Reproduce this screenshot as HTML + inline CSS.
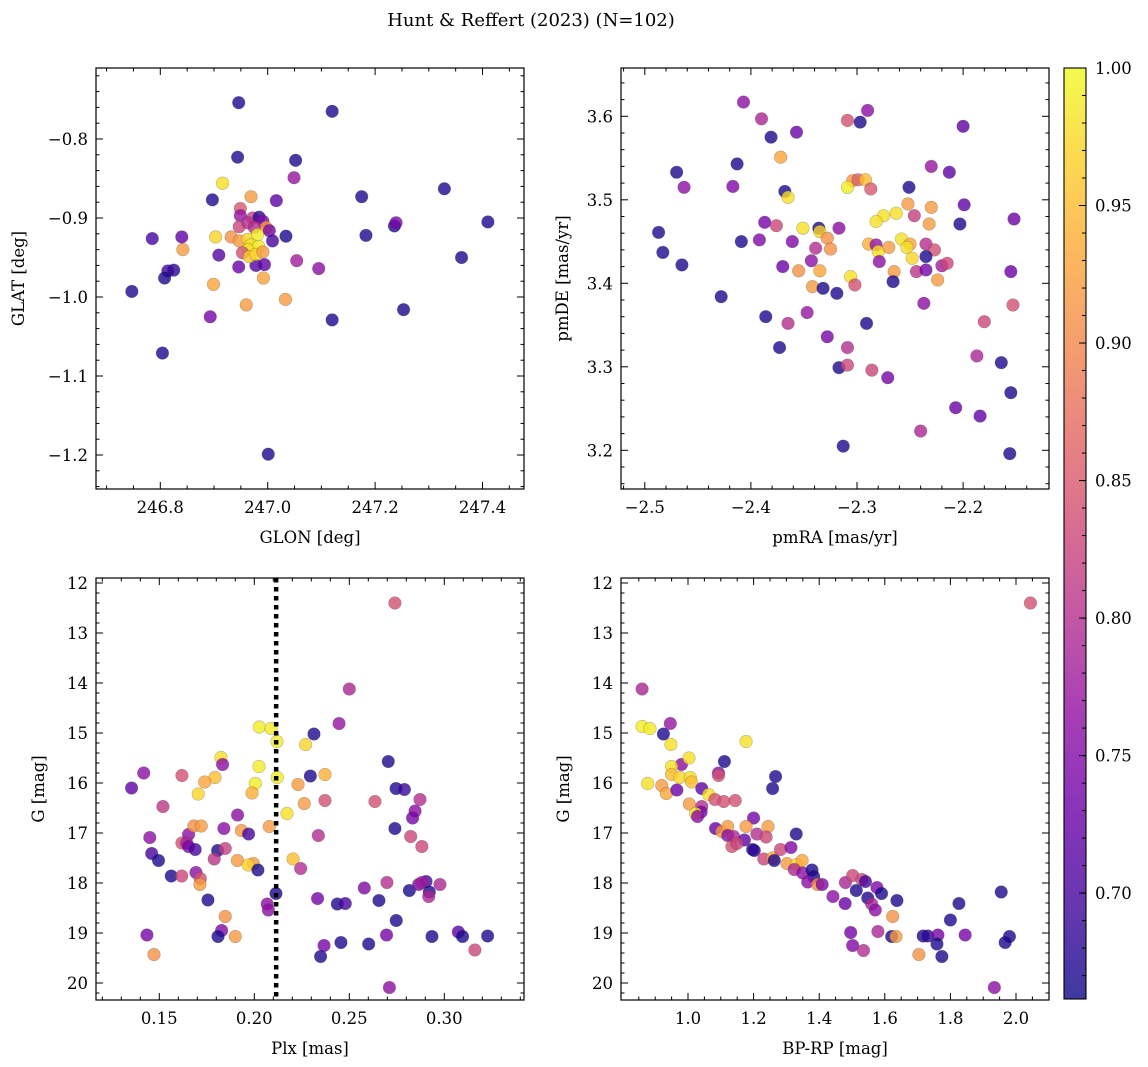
<!DOCTYPE html>
<html><head><meta charset="utf-8">
<style>
body{margin:0;background:#fff;}
svg{display:block;font-family:"DejaVu Serif","Liberation Serif",serif;}
</style></head>
<body>
<svg id="fig" width="1148" height="1067" viewBox="0 0 1148 1067" xmlns="http://www.w3.org/2000/svg">
<rect width="1148" height="1067" fill="#fff"/>
<text x="531" y="26" font-size="18" text-anchor="middle">Hunt &amp; Reffert (2023) (N=102)</text>
<g id="layer"></g>
</svg>
<script>
// ---- Panel 1: GLON vs GLAT ----
const p1Glon=[246.946,247.120,246.944,247.052,247.049,246.916,246.969,246.897,247.016,247.175,247.329,247.410,247.236,247.239,247.183,247.034,246.785,246.840,246.903,246.842,246.909,247.054,247.095,247.361,246.946,246.978,246.994,246.825,246.814,246.808,246.747,246.899,246.992,247.033,246.960,246.893,247.120,247.253,246.804,247.001,246.949,246.949,246.972,246.984,246.991,246.947,246.963,246.997,247.003,247.009,246.932,246.947,246.975,246.963,246.981,246.969,246.983,246.963,246.953,246.966,246.978,246.991];
const p1Glat=[-0.754,-0.765,-0.823,-0.827,-0.849,-0.856,-0.873,-0.877,-0.878,-0.873,-0.863,-0.905,-0.910,-0.906,-0.922,-0.923,-0.926,-0.924,-0.924,-0.940,-0.947,-0.954,-0.964,-0.950,-0.962,-0.960,-0.959,-0.966,-0.967,-0.976,-0.993,-0.984,-0.976,-1.003,-1.010,-1.025,-1.029,-1.016,-1.071,-1.199,-0.888,-0.897,-0.900,-0.899,-0.904,-0.911,-0.906,-0.912,-0.916,-0.929,-0.924,-0.929,-0.912,-0.927,-0.921,-0.934,-0.936,-0.940,-0.944,-0.949,-0.946,-0.943];
const p1Prob=[0.67,0.67,0.67,0.67,0.77,0.98,0.92,0.67,0.72,0.67,0.67,0.67,0.67,0.74,0.67,0.67,0.70,0.72,0.97,0.92,0.71,0.78,0.76,0.67,0.73,0.71,0.72,0.68,0.69,0.67,0.67,0.93,0.93,0.92,0.92,0.74,0.67,0.67,0.67,0.67,0.85,0.77,0.82,0.68,0.75,0.83,0.80,0.92,0.74,0.70,0.91,0.92,0.80,0.97,0.99,0.98,0.99,0.98,0.84,0.96,0.97,0.92];
// ---- Panel 2: pmRA vs pmDE ----
const p2PmRA=[-2.407,-2.390,-2.381,-2.357,-2.309,-2.297,-2.290,-2.200,-2.372,-2.470,-2.413,-2.463,-2.417,-2.368,-2.365,-2.304,-2.299,-2.292,-2.309,-2.287,-2.230,-2.213,-2.251,-2.252,-2.230,-2.199,-2.152,-2.203,-2.232,-2.246,-2.263,-2.275,-2.282,-2.487,-2.483,-2.465,-2.409,-2.392,-2.387,-2.376,-2.361,-2.351,-2.336,-2.335,-2.317,-2.339,-2.328,-2.325,-2.343,-2.370,-2.355,-2.335,-2.342,-2.332,-2.319,-2.306,-2.302,-2.289,-2.282,-2.280,-2.279,-2.270,-2.258,-2.250,-2.253,-2.248,-2.235,-2.227,-2.235,-2.265,-2.266,-2.244,-2.235,-2.220,-2.215,-2.224,-2.155,-2.237,-2.153,-2.428,-2.386,-2.365,-2.347,-2.291,-2.328,-2.373,-2.309,-2.317,-2.309,-2.286,-2.271,-2.180,-2.187,-2.164,-2.155,-2.207,-2.184,-2.240,-2.313,-2.156];
const p2PmDE=[3.617,3.597,3.575,3.581,3.595,3.593,3.607,3.588,3.551,3.533,3.543,3.515,3.516,3.510,3.503,3.523,3.524,3.524,3.515,3.513,3.540,3.533,3.515,3.495,3.491,3.494,3.477,3.471,3.471,3.481,3.484,3.481,3.474,3.461,3.437,3.422,3.450,3.452,3.473,3.469,3.450,3.466,3.466,3.462,3.466,3.442,3.454,3.441,3.427,3.420,3.415,3.415,3.396,3.394,3.388,3.408,3.398,3.447,3.446,3.438,3.426,3.443,3.453,3.447,3.443,3.430,3.447,3.440,3.432,3.414,3.402,3.414,3.416,3.421,3.424,3.404,3.414,3.376,3.374,3.384,3.360,3.352,3.365,3.352,3.336,3.323,3.323,3.299,3.302,3.296,3.287,3.354,3.313,3.305,3.269,3.251,3.241,3.223,3.205,3.196];
const p2Prob=[0.76,0.79,0.67,0.73,0.84,0.67,0.76,0.72,0.93,0.67,0.67,0.76,0.75,0.67,0.98,0.92,0.86,0.95,0.99,0.85,0.77,0.72,0.67,0.92,0.92,0.72,0.73,0.67,0.92,0.82,0.98,0.98,0.98,0.67,0.67,0.67,0.67,0.75,0.74,0.83,0.75,0.98,0.67,0.97,0.76,0.80,0.91,0.91,0.76,0.73,0.91,0.93,0.92,0.67,0.67,0.98,0.84,0.94,0.77,0.98,0.76,0.92,0.98,0.93,0.98,0.97,0.80,0.84,0.67,0.92,0.67,0.81,0.74,0.78,0.83,0.92,0.73,0.76,0.84,0.67,0.67,0.80,0.77,0.67,0.74,0.67,0.80,0.67,0.83,0.83,0.74,0.83,0.79,0.67,0.67,0.73,0.72,0.79,0.67,0.67];
// ---- Panel 3: Plx vs G ----
const p3Plx=[0.274,0.250,0.2446,0.2314,0.2026,0.2088,0.2119,0.227,0.1825,0.1833,0.2025,0.1793,0.1739,0.1705,0.2005,0.1988,0.2121,0.2295,0.2372,0.223,0.2263,0.2372,0.2172,0.2079,0.2705,0.2746,0.279,0.2635,0.2872,0.2846,0.2833,0.274,0.2823,0.2882,0.2337,0.2204,0.2244,0.1354,0.1418,0.1619,0.1519,0.145,0.146,0.1496,0.1563,0.1618,0.1619,0.1654,0.1644,0.1654,0.1689,0.1682,0.1721,0.1693,0.1716,0.1714,0.1756,0.1912,0.184,0.1932,0.197,0.1807,0.1847,0.1789,0.1911,0.1995,0.1968,0.2019,0.2114,0.2068,0.2074,0.1847,0.1828,0.1809,0.19,0.1435,0.1472,0.2333,0.2437,0.2479,0.2579,0.2698,0.2656,0.2816,0.2865,0.2904,0.2882,0.2921,0.2918,0.2977,0.2747,0.2696,0.2935,0.3074,0.3096,0.3228,0.3161,0.2456,0.2367,0.2602,0.2349,0.2711];
const p3G=[12.40,14.12,14.81,15.02,14.88,14.91,15.17,15.23,15.49,15.63,15.67,15.89,15.98,16.22,16.01,16.20,15.89,15.86,15.83,16.03,16.41,16.35,16.61,16.87,15.57,16.11,16.13,16.37,16.33,16.56,16.70,16.91,17.07,17.27,17.05,17.52,17.71,16.10,15.80,15.85,16.47,17.09,17.41,17.55,17.86,17.86,17.20,17.03,17.20,17.27,17.33,16.86,16.86,17.79,17.91,18.03,18.34,16.64,16.91,16.95,17.02,17.35,17.31,17.52,17.55,17.61,17.64,17.74,18.21,18.42,18.54,18.67,18.95,19.07,19.07,19.04,19.43,18.31,18.42,18.41,18.10,17.99,18.35,18.15,18.03,17.97,17.99,18.18,18.27,18.03,18.75,19.04,19.07,18.98,19.07,19.06,19.34,19.19,19.25,19.22,19.47,20.09];
const p3Prob=[0.84,0.79,0.77,0.67,0.99,0.99,0.99,0.97,0.98,0.76,0.99,0.95,0.93,0.97,0.99,0.94,0.99,0.67,0.94,0.92,0.92,0.84,0.98,0.92,0.67,0.67,0.69,0.84,0.80,0.76,0.74,0.67,0.83,0.83,0.80,0.95,0.80,0.72,0.76,0.84,0.81,0.76,0.70,0.67,0.67,0.83,0.84,0.76,0.79,0.74,0.70,0.91,0.92,0.76,0.84,0.92,0.67,0.76,0.76,0.92,0.70,0.67,0.82,0.81,0.92,0.92,0.97,0.67,0.67,0.76,0.76,0.91,0.75,0.67,0.92,0.74,0.91,0.74,0.67,0.70,0.75,0.80,0.67,0.67,0.75,0.70,0.78,0.67,0.79,0.79,0.67,0.74,0.67,0.72,0.67,0.67,0.83,0.67,0.74,0.67,0.67,0.76];
const plxLine=0.2115;
// ---- Panel 4: BP-RP vs G ----
const p4BpRp=[2.044,0.860,0.860,0.884,0.946,0.925,0.948,1.177,0.980,0.950,1.003,1.111,0.950,0.975,1.007,1.011,0.877,0.920,0.934,0.966,1.093,1.093,1.267,1.258,1.042,1.063,1.004,1.082,1.109,1.144,1.042,1.040,1.023,1.029,1.200,1.084,1.103,1.121,1.177,1.244,1.210,1.238,1.330,1.121,1.139,1.172,1.134,1.149,1.197,1.202,1.231,1.258,1.263,1.282,1.314,1.302,1.331,1.348,1.324,1.350,1.378,1.383,1.365,1.395,1.409,1.442,1.479,1.480,1.502,1.530,1.541,1.513,1.576,1.590,1.548,1.560,1.571,1.637,1.624,1.496,1.502,1.535,1.579,1.621,1.634,1.704,1.717,1.731,1.762,1.759,1.774,1.800,1.826,1.845,1.955,1.980,1.967,1.934];
const p4G=[12.40,14.12,14.87,14.91,14.81,15.02,15.23,15.17,15.63,15.67,15.50,15.57,15.83,15.89,15.89,15.98,16.01,16.05,16.21,16.14,15.80,15.85,15.87,16.11,16.11,16.23,16.42,16.33,16.37,16.35,16.47,16.58,16.61,16.67,16.70,16.91,16.97,16.87,16.87,16.87,17.02,17.08,17.02,17.05,17.07,17.14,17.27,17.21,17.33,17.35,17.52,17.50,17.55,17.33,17.29,17.61,17.63,17.55,17.73,17.80,17.74,17.87,17.98,18.03,18.03,18.27,18.41,17.99,17.85,17.93,17.97,18.15,18.09,18.21,18.30,18.42,18.54,18.35,18.67,18.99,19.25,19.35,18.97,19.07,19.07,19.43,19.06,19.06,19.04,19.22,19.47,18.74,18.41,19.04,18.18,19.07,19.19,20.09];
const p4Prob=[0.84,0.79,0.99,0.99,0.77,0.67,0.98,0.98,0.76,0.98,0.98,0.67,0.95,0.97,0.98,0.95,0.98,0.92,0.93,0.73,0.76,0.84,0.67,0.67,0.72,0.98,0.92,0.84,0.84,0.84,0.80,0.74,0.98,0.76,0.74,0.73,0.92,0.92,0.92,0.92,0.80,0.83,0.67,0.76,0.79,0.72,0.84,0.83,0.67,0.68,0.83,0.93,0.67,0.83,0.75,0.92,0.98,0.93,0.79,0.76,0.67,0.67,0.76,0.91,0.75,0.76,0.73,0.79,0.83,0.83,0.70,0.67,0.75,0.67,0.67,0.79,0.76,0.67,0.91,0.74,0.75,0.80,0.79,0.67,0.92,0.91,0.67,0.68,0.74,0.67,0.67,0.67,0.67,0.74,0.67,0.67,0.67,0.76];
// colorbar
const cbTicks=[0.70,0.75,0.80,0.85,0.90,0.95,1.00];
const vmin=0.6615, vmax=1.0;

const NS="http://www.w3.org/2000/svg";
const layer=document.getElementById('layer');
function mk(tag,attrs,parent){const e=document.createElementNS(NS,tag);for(const k in attrs)e.setAttribute(k,attrs[k]);(parent||layer).appendChild(e);return e;}
const stops=[[13,8,135],[65,4,157],[106,0,168],[143,13,164],[177,42,144],[204,71,120],[225,100,98],[242,132,75],[252,166,54],[252,206,37],[240,249,33]];
function plasma(t){t=Math.max(0,Math.min(1,t));const f=t*10,i=Math.min(9,Math.floor(f)),u=f-i;const a=stops[i],b=stops[i+1];return `rgb(${Math.round(a[0]+(b[0]-a[0])*u)},${Math.round(a[1]+(b[1]-a[1])*u)},${Math.round(a[2]+(b[2]-a[2])*u)})`;}
function fmt(v,d){return v<0?'\u2212'+Math.abs(v).toFixed(d):v.toFixed(d);}
const FS=16.5;

function panel(cfg){
  const g=mk('g',{});
  
  
  const L=cfg.x0,R=cfg.x1,T=cfg.y0,B=cfg.y1;
  const sx=v=>cfg.xp0+(v-cfg.xv0)*cfg.xs;
  const sy=v=>cfg.yp0+(v-cfg.yv0)*cfg.ys;
  const pg=mk('g',{},g);
  
  
  for(let i=0;i<cfg.xs_.length;i++){
    const c=mk('circle',{cx:sx(cfg.xs_[i]),cy:sy(cfg.ys_[i]),r:6.3,fill:plasma((cfg.pr[i]-vmin)/(vmax-vmin)),'fill-opacity':0.8,stroke:'rgba(60,60,60,0.35)','stroke-width':0.6},pg);
    
    
  }
  if(cfg.vline!==undefined){
    const l=mk('line',{x1:sx(cfg.vline),x2:sx(cfg.vline),y1:T,y2:B,stroke:'#000','stroke-width':4.5,'stroke-dasharray':'4.5 4.5'},g);
    
    
  }
  const fr=mk('rect',{x:L,y:T,width:R-L,height:B-T,fill:'none',stroke:'#000','stroke-width':1.2},g);
  
  
  const xa=mk('g',{},g);
  
  
  for(let k=-200;k<=200;k++){
    const v=cfg.xv0+k*cfg.xminor;const p=sx(v);
    if(p<L+2||p>R-2)continue;
    const major=Math.abs(k%cfg.xnm)===0;const len=major?7:3.5;
    mk('line',{x1:p,x2:p,y1:B,y2:B-len,stroke:'#000','stroke-width':1},xa);
    mk('line',{x1:p,x2:p,y1:T,y2:T+len,stroke:'#000','stroke-width':1},xa);
    if(major){const t=mk('text',{x:p,y:B+24,'font-size':FS,'text-anchor':'middle'},xa);t.textContent=fmt(v,cfg.xd);
      }
  }
  const ya=mk('g',{},g);
  
  
  for(let k=-200;k<=200;k++){
    const v=cfg.yv0+k*cfg.yminor;const p=sy(v);
    if(p<T+0.5||p>B-0.5)continue;
    const major=Math.abs(k%cfg.ynm)===0;const len=major?7:3.5;
    mk('line',{x1:L,x2:L+len,y1:p,y2:p,stroke:'#000','stroke-width':1},ya);
    mk('line',{x1:R,x2:R-len,y1:p,y2:p,stroke:'#000','stroke-width':1},ya);
    if(major){const t=mk('text',{x:L-8,y:p+6,'font-size':FS,'text-anchor':'end'},ya);t.textContent=fmt(v,cfg.yd);
      }
  }
  const xt=mk('text',{x:(L+R)/2,y:B+54,'font-size':16.5,'text-anchor':'middle'},g);xt.textContent=cfg.xl;
  
  const yt=mk('text',{x:0,y:0,'font-size':16.5,'text-anchor':'middle',transform:`translate(${cfg.ylx},${(T+B)/2}) rotate(-90)`},g);yt.textContent=cfg.yl;
  
}

panel({name:'glon-glat-panel',x0:96,x1:524,y0:68,y1:489,xs_:p1Glon,ys_:p1Glat,pr:p1Prob,
  xp0:267.7,xv0:247.0,xs:537,xminor:0.05,xnm:4,xd:1,
  yp0:139,yv0:-0.8,ys:-790,yminor:0.02,ynm:5,yd:1,xl:'GLON [deg]',yl:'GLAT [deg]',ylx:24});
panel({name:'pm-panel',x0:621,x1:1049,y0:68,y1:489,xs_:p2PmRA,ys_:p2PmDE,pr:p2Prob,
  xp0:857,xv0:-2.3,xs:1061,xminor:0.02,xnm:5,xd:1,
  yp0:116.3,yv0:3.6,ys:-835,yminor:0.02,ynm:5,yd:1,xl:'pmRA [mas/yr]',yl:'pmDE [mas/yr]',ylx:568});
panel({name:'plx-g-panel',x0:96,x1:524,y0:578,y1:1000,xs_:p3Plx,ys_:p3G,pr:p3Prob,vline:plxLine,
  xp0:254.3,xv0:0.20,xs:1900,xminor:0.01,xnm:5,xd:2,
  yp0:583,yv0:12,ys:50,yminor:0.2,ynm:5,yd:0,xl:'Plx [mas]',yl:'G [mag]',ylx:44});
panel({name:'cmd-panel',x0:621,x1:1049,y0:578,y1:1000,xs_:p4BpRp,ys_:p4G,pr:p4Prob,
  xp0:688,xv0:1.0,xs:328,xminor:0.05,xnm:4,xd:1,
  yp0:583,yv0:12,ys:50,yminor:0.2,ynm:5,yd:0,xl:'BP-RP [mag]',yl:'G [mag]',ylx:569});

const cb=mk('g',{});


const defs=mk('defs',{},cb);
const lg=mk('linearGradient',{id:'cbg',x1:0,y1:1,x2:0,y2:0},defs);
for(let i=0;i<=20;i++){mk('stop',{offset:(i/20),'stop-color':plasma(i/20)},lg);}
const cbr=mk('rect',{x:1064,y:68,width:22,height:931,fill:'url(#cbg)','fill-opacity':0.8},cb);


mk('rect',{x:1064,y:68,width:22,height:931,fill:'none',stroke:'#000','stroke-width':1.1},cb);
const cy=v=>68+(vmax-v)*(931/(vmax-vmin));
for(let v=0.67;v<=1.0001;v+=0.01){const p=cy(v);mk('line',{x1:1086,x2:1082,y1:p,y2:p,stroke:'#000','stroke-width':1},cb);}
for(const v of cbTicks){const p=cy(v);mk('line',{x1:1086,x2:1079,y1:p,y2:p,stroke:'#000','stroke-width':1},cb);
  const t=mk('text',{x:1095,y:p+6,'font-size':FS},cb);t.textContent=v.toFixed(2);
  }
</script>
</body></html>
